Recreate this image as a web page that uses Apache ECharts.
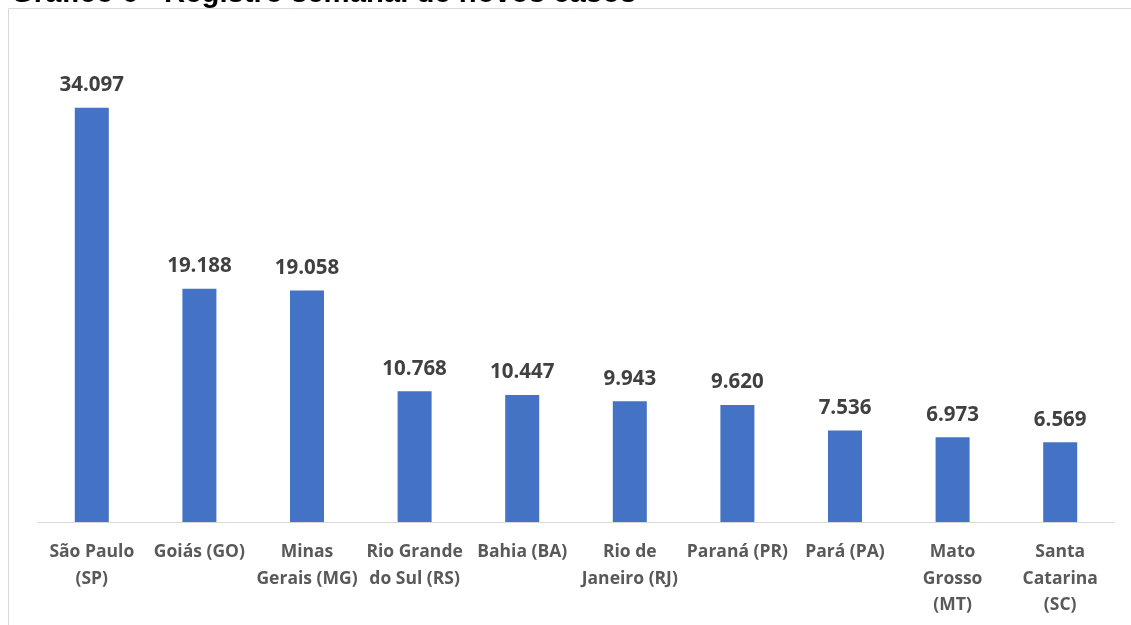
<!DOCTYPE html>
<html><head><meta charset="utf-8">
<script src="https://cdn.jsdelivr.net/npm/echarts@6/dist/echarts.min.js"></script>
<style>html,body{margin:0;padding:0;background:#fff}#c{width:1131px;height:625px}</style>
</head><body><div id="c"></div>
<script>
const titleText = 'Gráfico 6 - Registro semanal de novos casos';
const categories = ['São Paulo\n(SP)', 'Goiás (GO)', 'Minas\nGerais (MG)', 'Rio Grande\ndo Sul (RS)', 'Bahia (BA)', 'Rio de\nJaneiro (RJ)', 'Paraná (PR)', 'Pará (PA)', 'Mato\nGrosso\n(MT)', 'Santa\nCatarina\n(SC)'];
const values = [34097, 19188, 19058, 10768, 10447, 9943, 9620, 7536, 6973, 6569];

function fmt(v){ return v.toString().replace(/\B(?=(\d{3})+(?!\d))/g, '.'); }

const chart = echarts.init(document.getElementById('c'));
chart.setOption({
  animation: false,
  graphic: [
    { type: 'rect', shape: { x: 8.5, y: 8.5, width: 1300, height: 800 }, style: { fill: 'none', stroke: '#d9d9d9', lineWidth: 1 }, silent: true },
    { type: 'text', left: 11, top: -21, style: { text: titleText, font: 'bold 29.3px "Liberation Sans", Arial, sans-serif', fill: '#000' } }
  ],
  grid: { left: 38, right: 17, top: 36, bottom: 103 },
  xAxis: {
    type: 'category', data: categories,
    axisLine: { lineStyle: { color: '#d9d9d9', width: 1 } },
    axisTick: { show: false },
    axisLabel: { interval: 0, margin: 17, color: '#595959', fontFamily: 'Open Sans', fontWeight: 'bold', fontSize: 17.5, lineHeight: 26.5 }
  },
  yAxis: { type: 'value', min: 0, max: 40000, show: false, splitLine: { show: false } },
  series: [{
    type: 'bar', data: values, barWidth: '31.6%',
    itemStyle: { color: '#4472C4' },
    label: { show: true, position: 'top', distance: 12, color: '#404040', fontFamily: 'Open Sans', fontWeight: 'bold', fontSize: 20.5, formatter: p => fmt(p.value) }
  }]
});
</script></body></html>
